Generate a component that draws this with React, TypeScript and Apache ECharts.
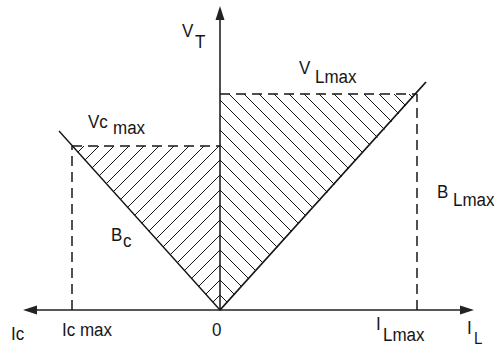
import React, { useEffect, useRef } from "react";
import * as echarts from "echarts";

// Axis extents (data units)
const X_MIN = -190;
const X_MAX = 247;
const Y_MIN = 0;
const Y_MAX = 297;

// Key values
const IC_MAX = -148;
const VC_MAX = 164;
const IL_MAX = 197;
const VL_MAX = 216;

// Boundary lines
const bcLine = [[0, 0], [-161, 179]];
const blLine = [[0, 0], [206, 228]];
const vcMaxLine = [[IC_MAX, VC_MAX], [0, VC_MAX]];
const vlMaxLine = [[0, VL_MAX], [IL_MAX, VL_MAX]];
const icMaxDrop = [[IC_MAX, 0], [IC_MAX, VC_MAX]];
const ilMaxDrop = [[IL_MAX, 0], [IL_MAX, VL_MAX]];

// Hatched regions (triangles)
const regionC = [[0, 0], [IC_MAX, VC_MAX], [0, VC_MAX]];
const regionL = [[0, 0], [0, VL_MAX], [IL_MAX, VL_MAX]];
const hatchRegions = [regionC, regionL];
const hatchDirs = [1, -1];

const INK = "#161616";
const FONT = "Liberation Sans, Arial, sans-serif";
const SY = 1.13;

function txt(text: string, x: number, capTop: number, size = 17) {
  return {
    type: "text",
    x,
    y: capTop - SY * (0.13 * size + 0.5),
    scaleY: SY,
    z: 10,
    style: {
      text,
      fontSize: size,
      fontFamily: FONT,
      fill: INK,
      verticalAlign: "top",
      align: "left",
    },
  };
}

export default function App() {
  const ref = useRef<HTMLDivElement>(null);
  useEffect(() => {
    if (!ref.current) return;
    const chart = echarts.init(ref.current, undefined, { renderer: "svg" });
    const solid = (data: number[][], width: number) => ({
      type: "line",
      data,
      showSymbol: false,
      silent: true,
      z: 5,
      lineStyle: { color: INK, width },
    });
    const dashed = (data: number[][]) => ({
      type: "line",
      data,
      showSymbol: false,
      silent: true,
      z: 5,
      lineStyle: { color: INK, width: 1.5, type: [10, 6] },
    });
    chart.setOption({
      animation: false,
      backgroundColor: "#ffffff",
      grid: { left: 30, right: 27, top: 13, bottom: 37, containLabel: false },
      xAxis: {
        type: "value",
        min: X_MIN,
        max: X_MAX,
        axisLine: {
          onZero: true,
          symbol: ["triangle", "triangle"],
          symbolSize: [9, 14],
          lineStyle: { color: "#222", width: 1.6 },
        },
        axisTick: { show: false },
        axisLabel: { show: false },
        splitLine: { show: false },
      },
      yAxis: {
        type: "value",
        min: Y_MIN,
        max: Y_MAX,
        axisLine: {
          onZero: true,
          symbol: ["none", "triangle"],
          symbolSize: [9, 14],
          lineStyle: { color: "#222", width: 1.6 },
        },
        axisTick: { show: false },
        axisLabel: { show: false },
        splitLine: { show: false },
      },
      series: [
        {
          type: "custom",
          coordinateSystem: "cartesian2d",
          silent: true,
          clip: false,
          z: 3,
          data: hatchRegions.map((_, i) => [0, 0, i]),
          renderItem: (params: any, api: any) => {
            const idx = params.dataIndex;
            const pts = hatchRegions[idx].map((p) => api.coord(p));
            const n = hatchDirs[idx] === 1 ? [1, 1] : [1, -1];
            const origin = api.coord([0, 0]);
            const t0 = n[0] * origin[0] + n[1] * origin[1];
            const vals = pts.map((p: number[]) => n[0] * p[0] + n[1] * p[1]);
            const tmin = Math.min(...vals);
            const tmax = Math.max(...vals);
            const step = 15;
            const children: any[] = [];
            const kStart = Math.ceil((tmin - t0) / step);
            const kEnd = Math.floor((tmax - t0) / step);
            for (let k = kStart; k <= kEnd; k++) {
              const t = t0 + k * step;
              if (t <= tmin + 1 || t >= tmax - 1) continue;
              const hits: number[][] = [];
              for (let i = 0; i < pts.length; i++) {
                const a = pts[i];
                const b = pts[(i + 1) % pts.length];
                const fa = n[0] * a[0] + n[1] * a[1] - t;
                const fb = n[0] * b[0] + n[1] * b[1] - t;
                if ((fa <= 0 && fb > 0) || (fa > 0 && fb <= 0)) {
                  const s = fa / (fa - fb);
                  hits.push([a[0] + s * (b[0] - a[0]), a[1] + s * (b[1] - a[1])]);
                }
              }
              if (hits.length >= 2) {
                children.push({
                  type: "line",
                  shape: { x1: hits[0][0], y1: hits[0][1], x2: hits[1][0], y2: hits[1][1] },
                  style: { stroke: INK, lineWidth: 1 },
                });
              }
            }
            return { type: "group", children };
          },
        },
        solid(bcLine, 1.4),
        solid(blLine, 1.8),
        dashed(vcMaxLine),
        dashed(vlMaxLine),
        dashed(icMaxDrop),
        dashed(ilMaxDrop),
      ],
      graphic: [
        txt("V", 182, 24),
        txt("T", 195, 35),
        txt("V", 299, 61),
        txt("Lmax", 315, 70),
        txt("Vc", 88, 115),
        txt("max", 113, 121),
        txt("B", 111, 228),
        txt("c", 123, 234),
        txt("B", 437, 185),
        txt("Lmax", 453, 193),
        txt("Ic", 11, 327),
        txt("Ic max", 62, 323),
        txt("0", 212, 323),
        txt("I", 376, 317),
        txt("Lmax", 383, 328),
        txt("I", 467, 321),
        txt("L", 474, 332, 15),
      ],
    });
    return () => chart.dispose();
  }, []);
  return (
    <div
      ref={ref}
      style={{ position: "fixed", left: 0, top: 0, width: 494, height: 347, background: "#fff" }}
    />
  );
}
